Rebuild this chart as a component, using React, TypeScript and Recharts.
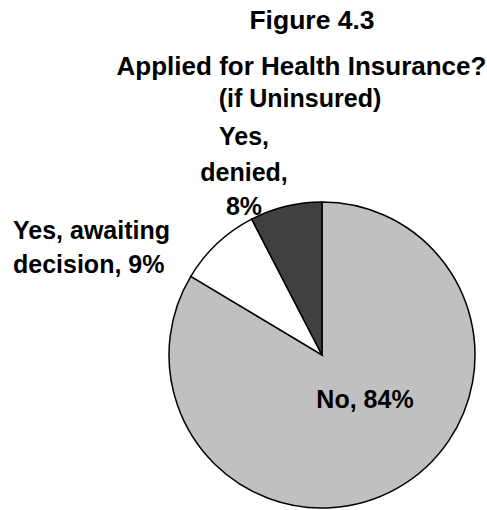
import { Pie, PieChart, Cell } from "recharts"

const categories = ["No", "Yes, awaiting decision", "Yes, denied"]
const shares = [83.6, 8.8, 7.6]
const colors = ["#c0c0c0", "#ffffff", "#404040"]

// how each category's label is broken into lines
const labelLines = [["No, "], ["Yes, awaiting", "decision, "], ["Yes,", "denied,", ""]]

const titleLines = ["Figure 4.3", "Applied for Health Insurance?", "(if Uninsured)"]

const data = categories.map((name, i) => ({ name, value: shares[i] }))

const font = "Liberation Sans, Arial, Helvetica, sans-serif"

// label placement relative to the pie centre
const labelPos = [
  { dx: 43, dy: [53], anchor: "middle" },
  { dx: -309, dy: [-116, -82], anchor: "start" },
  { dx: -78, dy: [-210, -174, -140], anchor: "middle" },
]

function renderLabel(props: any) {
  const { cx, cy, index, value } = props
  const pos = labelPos[index]
  const lines = labelLines[index].slice()
  lines[lines.length - 1] += `${Math.round(value)}%`
  return (
    <text
      key={index}
      textAnchor={pos.anchor}
      fontFamily={font}
      fontWeight="bold"
      fontSize={25}
      fill="#000"
    >
      {lines.map((line, i) => (
        <tspan key={i} x={cx + pos.dx} y={cy + pos.dy[i]}>
          {line}
        </tspan>
      ))}
    </text>
  )
}

export default function App() {
  return (
    <div style={{ position: "absolute", left: 0, top: 0, width: 487, height: 510, background: "#fff" }}>
      <svg width={487} height={510} style={{ position: "absolute", left: 0, top: 0 }}>
        <text x={312} y={29} textAnchor="middle" fontFamily={font} fontWeight="bold" fontSize={26.5}>
          {titleLines[0]}
        </text>
        <text x={301.5} y={75} textAnchor="middle" fontFamily={font} fontWeight="bold" fontSize={26}>
          {titleLines[1]}
        </text>
        <text x={300} y={107} textAnchor="middle" fontFamily={font} fontWeight="bold" fontSize={25}>
          {titleLines[2]}
        </text>
      </svg>
      <div style={{ position: "absolute", left: 0, top: 0 }}>
        <PieChart width={487} height={510} margin={{ top: 0, right: 0, bottom: 0, left: 0 }}>
          <Pie
            data={data}
            dataKey="value"
            nameKey="name"
            cx={322}
            cy={355}
            outerRadius={153}
            startAngle={90}
            endAngle={-270}
            stroke="#000"
            strokeWidth={1.5}
            label={renderLabel}
            labelLine={false}
            isAnimationActive={false}
          >
            {data.map((d, i) => (
              <Cell key={d.name} fill={colors[i]} />
            ))}
          </Pie>
        </PieChart>
      </div>
    </div>
  )
}
